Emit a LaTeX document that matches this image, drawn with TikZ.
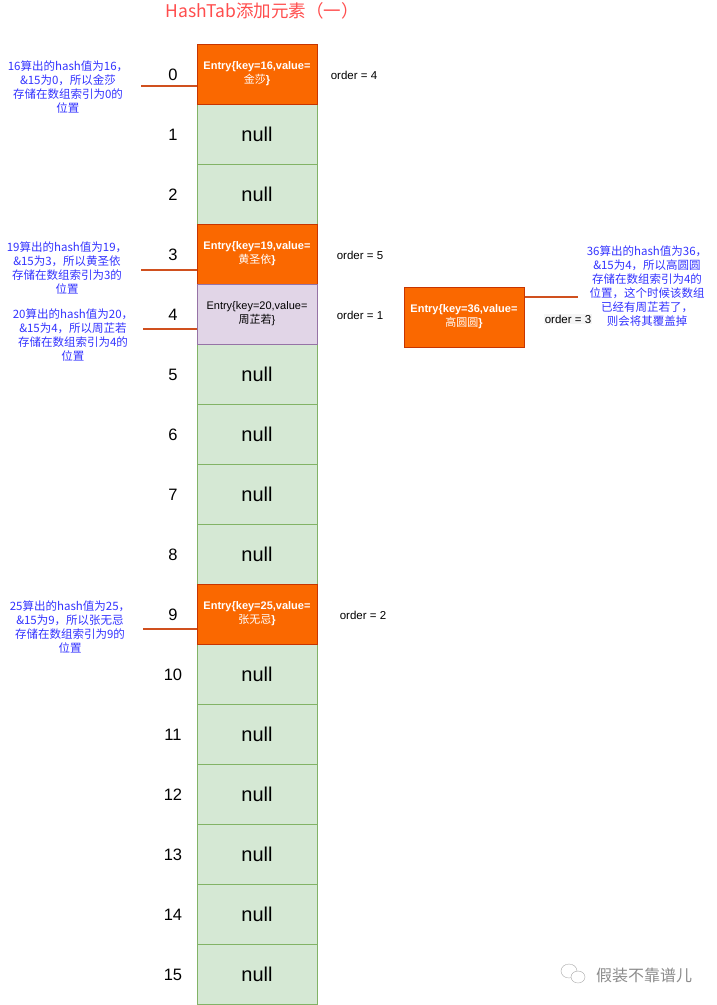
\documentclass[tikz,border=0pt]{standalone}
\usepackage{fontspec}
\setmainfont{Liberation Sans}
\newfontfamily\cjk{Noto Sans CJK SC}
\usepackage{tikz}
\usepackage{xcolor}
\usetikzlibrary{positioning}
\definecolor{EntryOrange}{HTML}{FA6800}
\definecolor{EntryOrangeLine}{HTML}{C73500}
\definecolor{NullGreen}{HTML}{D5E8D4}
\definecolor{NullGreenLine}{HTML}{82B366}
\definecolor{OldPurple}{HTML}{E1D5E7}
\definecolor{OldPurpleLine}{HTML}{9673A6}
\definecolor{NoteBlue}{HTML}{3333FF}
\definecolor{TitleRed}{HTML}{FF4D4D}
\definecolor{PointerRed}{HTML}{D0501E}
\tikzset{
    % Array slots
    cell/.style={
        rectangle,
        draw=NullGreenLine,
        fill=NullGreen,
        line width=1pt,
        minimum width=120pt,
        minimum height=60pt,
        inner sep=0pt,
        align=center,
        font=\fontsize{20}{22}\selectfont
    },
    cell entry/.style={
        cell,
        draw=EntryOrangeLine,
        fill=EntryOrange,
        text=white,
        font=\fontsize{11}{14}\selectfont\bfseries
    },
    cell old/.style={
        cell,
        draw=OldPurpleLine,
        fill=OldPurple,
        font=\fontsize{11}{14}\selectfont
    },
    index label/.style={
        font=\fontsize{16.5}{18}\selectfont
    },
    order label/.style={
        font=\fontsize{11.5}{13}\selectfont
    },
    note/.style={
        align=center,
        text=NoteBlue,
        inner sep=0pt,
        font=\cjk\fontsize{11.5}{14}\selectfont
    },
    pointer/.style={
        draw=PointerRed,
        line width=1.5pt
    }
}
\begin{document}
\begin{tikzpicture}[x=1pt, y=-1pt]
        \useasboundingbox (0,0) rectangle (717,1005);

        % Title
        \node[text=TitleRed, font=\cjk\fontsize{17.5}{19}\selectfont] (title) at (262,11) {HashTab添加元素（一）};

        % Empty slots
        \foreach \i in {1,2,5,6,7,8,10,11,12,13,14,15}
            \node[cell] (cell\i) at (257,{74+60*\i}) {null};

        % Slot 0
        \node[cell entry] (cell0) at (257,74) {Entry\{key=16,value=\\{\cjk\mdseries 金莎}\}};

        % Slot 3
        \node[cell entry] (cell3) at (257,254) {Entry\{key=19,value=\\{\cjk\mdseries 黄圣依}\}};

        % Slot 4 (old value)
        \node[cell old] (cell4) at (257,314) {Entry\{key=20,value=\\{\cjk 周芷若}\}};

        % Slot 9
        \node[cell entry] (cell9) at (257,614) {Entry\{key=25,value=\\{\cjk\mdseries 张无忌}\}};

        % New entry for slot 4
        \node[cell entry] (entry36) at (464,317) {Entry\{key=36,value=\\{\cjk\mdseries 高圆圆}\}};

        % Indices
        \foreach \i in {0,...,15}
            \node[index label] (idx\i) at (173,{75+60*\i}) {\i};

        % Insertion order
        \node[order label] (order0) at (354,75) {order = 4};
        \node[order label] (order3) at (360,255) {order = 5};
        \node[order label] (order4) at (360,315) {order = 1};
        \node[order label] (order9) at (363,615) {order = 2};
        \node[order label, fill=black!4, inner sep=1pt] (order36) at (568,319) {order = 3};

        % Notes
        \node[note] (note0) at (68,87) {16算出的hash值为16，\\\&15为0，所以金莎\\存储在数组索引为0的\\位置};
        \node[note] (note3) at (67,268) {19算出的hash值为19，\\\&15为3，所以黄圣依\\存储在数组索引为3的\\位置};
        \node[note] (note4) at (73,335) {20算出的hash值为20，\\\&15为4，所以周芷若\\存储在数组索引为4的\\位置};
        \node[note] (note9) at (70,627) {25算出的hash值为25，\\\&15为9，所以张无忌\\存储在数组索引为9的\\位置};
        \node[note] (note36) at (647,286) {36算出的hash值为36，\\\&15为4，所以高圆圆\\存储在数组索引为4的\\位置，这个时候该数组\\已经有周芷若了，\\则会将其覆盖掉};

        % Pointers
        \coordinate (from0) at (141,86);
        \coordinate (from3) at (141,270);
        \coordinate (from4) at (143,329);
        \coordinate (from9) at (143,629);
        \coordinate (from36) at (578,297);
        \draw[pointer] (from0) -- (cell0.west |- from0);
        \draw[pointer] (from3) -- (cell3.west |- from3);
        \draw[pointer] (from4) -- (cell4.west |- from4);
        \draw[pointer] (from9) -- (cell9.west |- from9);
        \draw[pointer] (entry36.east |- from36) -- (from36);

        % Watermark
        \draw[black!35, fill=white] (569,971) ellipse (8 and 7);
        \draw[black!35, fill=white] (578,977) ellipse (7 and 6);
        \node[text=black!45, font=\cjk\fontsize{16}{18}\selectfont] (mark) at (644,975) {假装不靠谱儿};
    \end{tikzpicture}
\end{document}
